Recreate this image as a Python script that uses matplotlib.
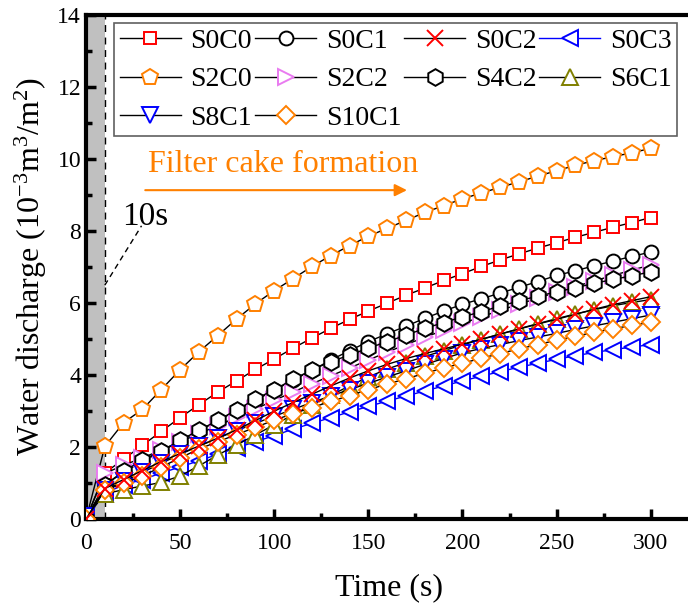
import matplotlib
matplotlib.use("Agg")
import matplotlib.pyplot as plt
from matplotlib.ticker import MultipleLocator

plt.rcParams['font.family'] = ['Liberation Serif', 'DejaVu Serif']
plt.rcParams['mathtext.fontset'] = 'custom'
plt.rcParams['mathtext.rm'] = 'Liberation Serif'
plt.rcParams['mathtext.it'] = 'Liberation Serif:italic'

# time (s) and water discharge (10^-3 m3/m2) per sample
t = list(range(0, 310, 10))
s0c0 = [0, 1.28, 1.67, 2.05, 2.44, 2.82, 3.18, 3.53, 3.84, 4.16, 4.45, 4.75, 5.03, 5.3, 5.55, 5.78,
        6.0, 6.22, 6.42, 6.63, 6.82, 7.02, 7.2, 7.37, 7.53, 7.68, 7.83, 7.97, 8.11, 8.24, 8.38]
s0c1 = [0, 0.95, 1.3, 1.6, 1.88, 2.17, 2.45, 2.73, 3.02, 3.3, 3.58, 3.86, 4.13, 4.42, 4.68, 4.93,
        5.15, 5.36, 5.58, 5.78, 5.97, 6.12, 6.28, 6.44, 6.6, 6.77, 6.9, 7.04, 7.17, 7.3, 7.42]
s0c2 = [0, 0.85, 1.1, 1.35, 1.6, 1.82, 2.03, 2.25, 2.48, 2.74, 3.0, 3.24, 3.47, 3.7, 3.92, 4.12,
        4.3, 4.46, 4.6, 4.73, 4.86, 5.0, 5.14, 5.28, 5.42, 5.55, 5.69, 5.83, 5.96, 6.07, 6.18]
s0c3 = [0.05, 0.72, 0.95, 1.1, 1.28, 1.45, 1.62, 1.8, 1.98, 2.15, 2.32, 2.5, 2.66, 2.82, 2.98, 3.13,
        3.28, 3.42, 3.56, 3.7, 3.84, 3.97, 4.1, 4.22, 4.33, 4.44, 4.54, 4.63, 4.71, 4.78, 4.85]
s2c0 = [0, 2.02, 2.68, 3.05, 3.6, 4.15, 4.65, 5.1, 5.56, 5.98, 6.35, 6.68, 7.02, 7.32, 7.6, 7.86,
        8.08, 8.3, 8.52, 8.71, 8.9, 9.06, 9.22, 9.37, 9.53, 9.68, 9.83, 9.96, 10.07, 10.18, 10.3]
s2c2 = [0, 1.27, 1.5, 1.7, 1.92, 2.15, 2.37, 2.6, 2.83, 3.06, 3.3, 3.53, 3.76, 3.98, 4.2, 4.42,
        4.64, 4.85, 5.05, 5.25, 5.44, 5.62, 5.8, 5.97, 6.14, 6.3, 6.46, 6.62, 6.77, 6.92, 7.06]
s4c2 = [0, 0.95, 1.33, 1.64, 1.89, 2.19, 2.47, 2.74, 3.04, 3.33, 3.6, 3.88, 4.15, 4.37, 4.56, 4.75,
        4.93, 5.11, 5.3, 5.46, 5.62, 5.76, 5.92, 6.06, 6.2, 6.31, 6.43, 6.55, 6.66, 6.76, 6.87]
s6c1 = [0.05, 0.7, 0.82, 0.92, 1.02, 1.2, 1.48, 1.78, 2.06, 2.34, 2.62, 2.9, 3.17, 3.44, 3.7, 3.95,
        4.17, 4.35, 4.52, 4.68, 4.84, 4.99, 5.14, 5.29, 5.43, 5.57, 5.7, 5.82, 5.93, 6.02, 6.1]
s8c1 = [0.1, 0.8, 1.05, 1.3, 1.55, 1.8, 2.03, 2.25, 2.46, 2.66, 2.86, 3.05, 3.24, 3.42, 3.6, 3.77,
        3.95, 4.12, 4.3, 4.46, 4.62, 4.74, 4.85, 4.96, 5.06, 5.16, 5.27, 5.37, 5.47, 5.57, 5.67]
s10c1 = [0, 0.8, 1.0, 1.2, 1.45, 1.7, 1.95, 2.15, 2.35, 2.55, 2.75, 2.93, 3.1, 3.27, 3.43, 3.6,
         3.75, 3.9, 4.05, 4.2, 4.33, 4.47, 4.6, 4.73, 4.85, 4.97, 5.08, 5.19, 5.29, 5.38, 5.47]

labels = ["S0C0", "S0C1", "S0C2", "S0C3", "S2C0", "S2C2", "S4C2", "S6C1", "S8C1", "S10C1"]
data = [s0c0, s0c1, s0c2, s0c3, s2c0, s2c2, s4c2, s6c1, s8c1, s10c1]
# marker, marker colour, line colour, marker size
styles = [
    ('s', '#FF0000', 'black', 9),
    ('o', 'black', 'black', 10),
    ('x', '#FF0000', 'black', 11),
    ('<', '#0000FF', '#0000FF', 11),
    ('p', '#FF8000', 'black', 12),
    ('>', '#E97BF0', 'black', 11),
    ('h', 'black', 'black', 12),
    ('^', '#808000', 'black', 11),
    ('v', '#0000FF', 'black', 11),
    ('D', '#FF8000', 'black', 9),
]

fig = plt.figure(figsize=(6.88, 6.10), dpi=100)
ax = fig.add_axes([0.125, 0.149, 0.881, 0.826])

ax.axvspan(0, 10, color='#C0C0C0', zorder=0, lw=0)
ax.axvline(10, color='black', ls=(0, (5, 4)), lw=1, zorder=1)

handles = []
for i in range(len(labels)):
    m, mc, lc, ms = styles[i]
    z = 3
    if m == 'x':
        z = 4
    h, = ax.plot(t, data[i], color=lc, lw=1.0, marker=m, ms=ms, mec=mc,
                 mfc='none' if m == 'x' else 'white', mew=1.4, label=labels[i], zorder=z)
    handles.append(h)

ax.plot([10, 29.5], [6.5, 8.15], color='black', ls=(0, (4, 3)), lw=1)
ax.text(19, 8.4, "10s", fontsize=24, ha='left', va='center')
ax.text(33, 9.85, "Filter cake formation", fontsize=23, color='#FF8000', ha='left', va='center')
ax.annotate("", xy=(172, 9.14), xytext=(30, 9.14),
            arrowprops=dict(arrowstyle='-|>', color='#FF8000', lw=1.5, mutation_scale=18))

ax.set_xlim(0, 322)
ax.set_ylim(0, 14)
ax.set_xticks(range(0, 301, 50))
ax.xaxis.set_minor_locator(MultipleLocator(25))
ax.set_yticks(range(0, 15, 2))
ax.yaxis.set_minor_locator(MultipleLocator(1))
ax.tick_params(which='both', direction='in', labelsize=17, width=2.5)
ax.tick_params(which='major', length=7)
ax.tick_params(which='minor', length=4)
ax.tick_params(axis='x', pad=10)
for sp in ax.spines.values():
    sp.set_linewidth(3)

ax.set_xlabel("Time (s)", fontsize=23, labelpad=14)
ax.set_ylabel(r"Water discharge (10$^{-3}$m$^3$/m$^2$)", fontsize=23, labelpad=6)

# legend reads row by row, matplotlib fills column by column
order = [0, 4, 8, 1, 5, 9, 2, 6, 3, 7]
leg = ax.legend([handles[k] for k in order], [labels[k] for k in order],
                loc='upper left', bbox_to_anchor=(0.166, 0.962), bbox_transform=fig.transFigure,
                ncol=4, fontsize=20, handlelength=2.2, handletextpad=0.35, columnspacing=0.1,
                labelspacing=0.46, borderpad=0.2, borderaxespad=0, fancybox=False, framealpha=1)
leg.get_frame().set_edgecolor('#606060')
leg.get_frame().set_linewidth(1.2)

fig.savefig("out.png", dpi=100)
